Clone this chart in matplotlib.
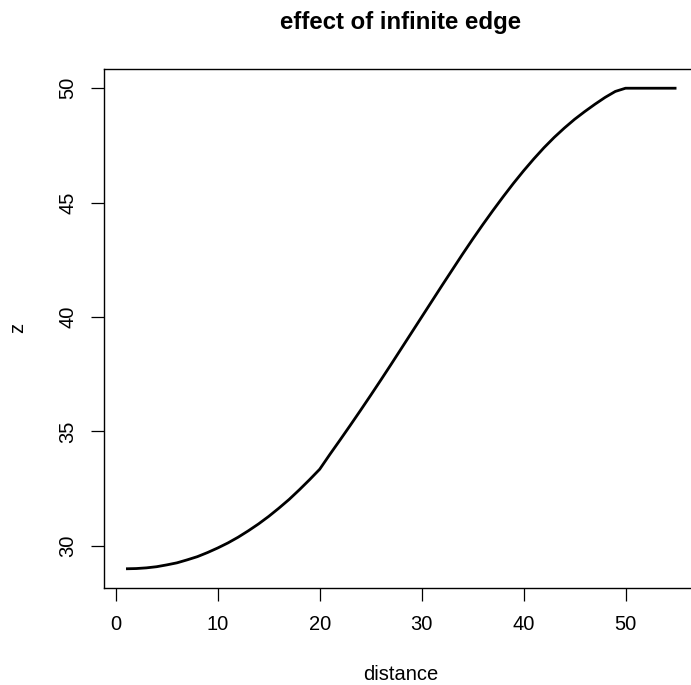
import numpy as np
from matplotlib import pyplot as plt

plt.rcParams['font.family'] = ['Liberation Sans', 'DejaVu Sans']

# values
distance = np.arange(1, 56)
z = [29.00, 29.01, 29.04, 29.09, 29.17, 29.26, 29.39, 29.53, 29.71, 29.91,
     30.13, 30.38, 30.66, 30.96, 31.29, 31.65, 32.03, 32.45, 32.89, 33.35,
     34.00, 34.63, 35.27, 35.92, 36.58, 37.25, 37.93, 38.62, 39.31, 40.00,
     40.69, 41.38, 42.06, 42.74, 43.40, 44.04, 44.66, 45.26, 45.84, 46.39,
     46.91, 47.40, 47.85, 48.26, 48.64, 48.98, 49.30, 49.60, 49.86, 50.00,
     50.00, 50.00, 50.00, 50.00, 50.00]
xticks = [0, 10, 20, 30, 40, 50]
yticks = [30, 35, 40, 45, 50]

W, H = 691, 685
fig = plt.figure(figsize=(W / 100, H / 100), dpi=100)
# plot region in pixels: left 104, right 698.5 (cut off), top 69, bottom 588
ax = fig.add_axes([104 / W, 1 - 588 / H, (698.5 - 104) / W, (588 - 69) / H])

ax.plot(distance, z, color='black', lw=2.0, solid_capstyle='butt')

ax.set_xlim(-1.16, 57.16)
ax.set_ylim(28.16, 50.84)
ax.set_xticks(xticks)
ax.set_yticks(yticks)
for s in ax.spines.values():
    s.set_linewidth(1.0)
ax.tick_params(direction='out', length=9.4, width=0.9, labelsize=14.5, pad=10)
for lab in ax.get_yticklabels():
    lab.set_rotation(90)
    lab.set_va('center')

fig.text(401 / W, 1 - 22 / H, 'effect of infinite edge', ha='center', va='center',
         fontsize=17.3, fontweight='bold')
fig.text(401 / W, 5 / H, 'distance', ha='center', va='baseline', fontsize=14.5)
fig.text(18 / W, 1 - 328 / H, 'z', ha='center', va='center', rotation=90, fontsize=14.5)

fig.savefig('out.png', dpi=100)
